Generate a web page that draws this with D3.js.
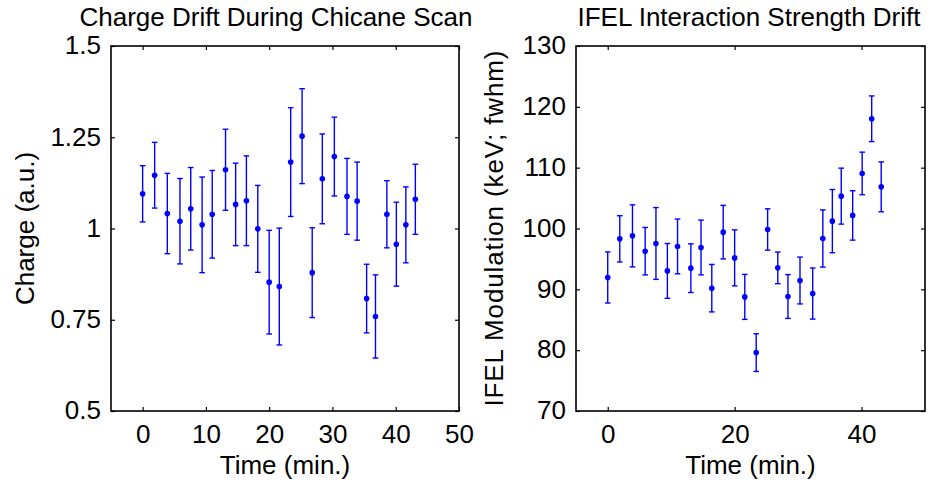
<!DOCTYPE html>
<html>
<head>
<meta charset="utf-8">
<script src="https://cdn.jsdelivr.net/npm/d3@7"></script>
<style>
  body { margin: 0; background: #fff; }
  text { font-family: "Liberation Sans", Arial, sans-serif; fill: #000; }
</style>
</head>
<body>
<svg id="chart" width="934" height="485"></svg>
<script>
// time stamps (min.) shared by both panels
const times = [0, 1.9, 3.9, 5.9, 7.6, 9.4, 11.0, 13.1, 14.7, 16.4, 18.2, 20.0, 21.6,
  23.4, 25.2, 26.8, 28.4, 30.3, 32.3, 33.9, 35.4, 36.8, 38.6, 40.1, 41.6, 43.1];

// left panel: charge
const charge = [1.095, 1.146, 1.041, 1.020, 1.054, 1.010, 1.039, 1.161, 1.066, 1.076, 0.999, 0.853, 0.841,
  1.182, 1.253, 0.879, 1.136, 1.197, 1.088, 1.075, 0.808, 0.759, 1.039, 0.957, 1.010, 1.080];
const chargeErr = [0.077, 0.090, 0.110, 0.117, 0.113, 0.131, 0.120, 0.111, 0.113, 0.123, 0.119, 0.142, 0.160,
  0.149, 0.130, 0.123, 0.123, 0.108, 0.104, 0.107, 0.094, 0.114, 0.092, 0.115, 0.104, 0.096];

// right panel: IFEL modulation
const ifel = [91.95, 98.30, 98.79, 96.27, 97.54, 93.03, 97.05, 93.48, 96.88, 90.19, 99.40, 95.17, 88.76,
  79.6, 99.84, 93.53, 88.82, 91.45, 89.31, 98.36, 101.21, 105.32, 102.15, 109.05, 118.04, 106.85];
const ifelErr = [4.2, 3.8, 5.1, 3.9, 5.9, 4.5, 4.5, 4.0, 4.5, 3.9, 4.4, 4.6, 3.7,
  3.1, 3.4, 2.6, 3.6, 3.85, 4.2, 4.7, 5.2, 4.6, 4.06, 3.5, 3.75, 4.1];

const chargeTicks = [0.5, 0.75, 1, 1.25, 1.5];
const ifelTicks = [70, 80, 90, 100, 110, 120, 130];
const leftXTicks = [0, 10, 20, 30, 40, 50];
const rightXTicks = [0, 20, 40];

const svg = d3.select('#chart');
const fontSize = 26;

function panel(opts) {
  const { left, right, top, bottom } = opts.box;
  const x = d3.scaleLinear().domain([-5, 50]).range([left, right]);
  const y = d3.scaleLinear().domain(opts.yDomain).range([bottom, top]);
  const g = svg.append('g');

  // axes: ticks point inward, mirrored on top/right like a matlab box
  const fmt = d => String(d);
  const bx = g.append('g').attr('transform', `translate(0,${bottom})`)
    .call(d3.axisBottom(x).tickValues(opts.xTicks).tickSizeInner(-4).tickSizeOuter(0).tickPadding(14).tickFormat(fmt));
  const lx = g.append('g').attr('transform', `translate(${left},0)`)
    .call(d3.axisLeft(y).tickValues(opts.yTicks).tickSizeInner(-4).tickSizeOuter(0).tickPadding(10).tickFormat(fmt));
  g.append('g').attr('transform', `translate(0,${top})`)
    .call(d3.axisTop(x).tickValues(opts.xTicks).tickSizeInner(-4).tickSizeOuter(0).tickFormat(''));
  g.append('g').attr('transform', `translate(${right},0)`)
    .call(d3.axisRight(y).tickValues(opts.yTicks).tickSizeInner(-4).tickSizeOuter(0).tickFormat(''));

  g.selectAll('.domain').remove();
  g.selectAll('.tick line').attr('stroke', '#000').attr('stroke-width', 1.2);
  g.selectAll('.tick text').attr('font-size', fontSize).attr('font-family', '"Liberation Sans", Arial, sans-serif').attr('fill', '#000');
  bx.selectAll('.tick text').attr('dy', '0.71em');
  lx.selectAll('.tick text').attr('dy', '0.3em');

  g.append('rect')
    .attr('x', left).attr('y', top)
    .attr('width', right - left).attr('height', bottom - top)
    .attr('fill', 'none').attr('stroke', '#000').attr('stroke-width', 1.6);

  // error bars
  const pts = opts.values.map((v, i) => ({ t: times[i], v, e: opts.errs[i] }));
  const eb = g.append('g').attr('stroke', '#0000ff').attr('stroke-width', 1.4);
  eb.selectAll('line.bar').data(pts).enter().append('line')
    .attr('x1', d => x(d.t)).attr('x2', d => x(d.t))
    .attr('y1', d => y(d.v - d.e)).attr('y2', d => y(d.v + d.e));
  eb.selectAll('line.capt').data(pts).enter().append('line')
    .attr('x1', d => x(d.t) - 2.8).attr('x2', d => x(d.t) + 2.8)
    .attr('y1', d => y(d.v + d.e)).attr('y2', d => y(d.v + d.e));
  eb.selectAll('line.capb').data(pts).enter().append('line')
    .attr('x1', d => x(d.t) - 2.8).attr('x2', d => x(d.t) + 2.8)
    .attr('y1', d => y(d.v - d.e)).attr('y2', d => y(d.v - d.e));

  g.append('g').selectAll('circle').data(pts).enter().append('circle')
    .attr('cx', d => x(d.t)).attr('cy', d => y(d.v))
    .attr('r', 2.8).attr('fill', '#0000ff');

  // labels
  g.append('text').attr('x', opts.titleX).attr('y', 26)
    .attr('text-anchor', 'middle').attr('font-size', fontSize).text(opts.title);
  g.append('text').attr('x', (left + right) / 2).attr('y', 474)
    .attr('text-anchor', 'middle').attr('font-size', fontSize).text('Time (min.)');
  const yl = g.append('text')
    .attr('transform', `translate(${opts.yLabelX},${(top + bottom) / 2}) rotate(-90)`)
    .attr('text-anchor', 'middle').attr('font-size', fontSize).text(opts.yLabel);
  if (opts.yLabelLen) yl.attr('textLength', opts.yLabelLen).attr('lengthAdjust', 'spacing');
}

panel({
  box: { left: 111, right: 459, top: 46, bottom: 411 },
  yDomain: [0.5, 1.5], yTicks: chargeTicks, xTicks: leftXTicks,
  values: charge, errs: chargeErr,
  title: 'Charge Drift During Chicane Scan', titleX: 276,
  yLabel: 'Charge (a.u.)', yLabelX: 34
});

panel({
  box: { left: 576, right: 925, top: 46, bottom: 411 },
  yDomain: [70, 130], yTicks: ifelTicks, xTicks: rightXTicks,
  values: ifel, errs: ifelErr,
  title: 'IFEL Interaction Strength Drift', titleX: 749,
  yLabel: 'IFEL Modulation (keV; fwhm)', yLabelX: 503, yLabelLen: 356
});
</script>
</body>
</html>
